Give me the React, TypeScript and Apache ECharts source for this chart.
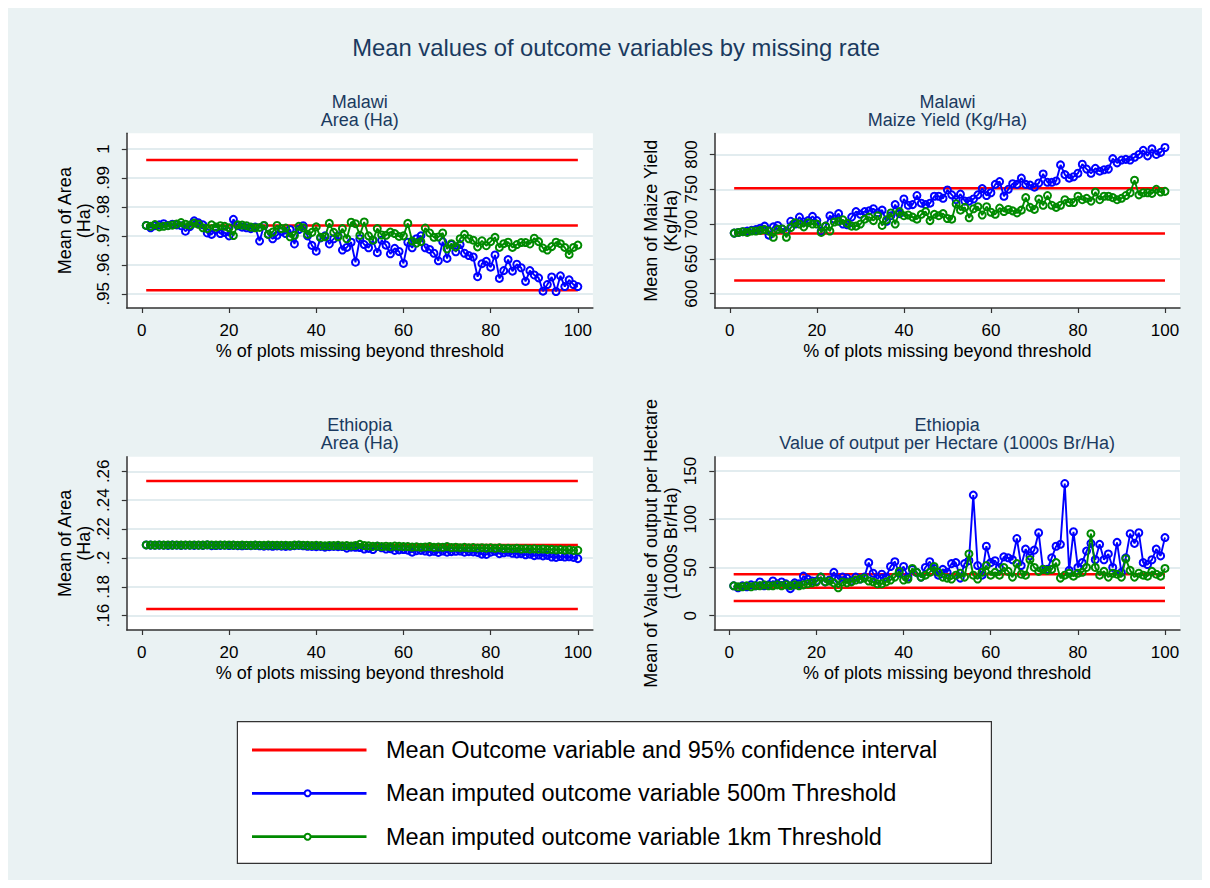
import React, { useEffect, useRef } from 'react';
import * as echarts from 'echarts';

// ---------- data ----------
const missingPct = Array.from({ length: 100 }, (_, i) => i + 1);
const xTicks = [0, 20, 40, 60, 80, 100];

// Malawi – Area (Ha)
const malawiAreaTicks = [0.95, 0.96, 0.97, 0.98, 0.99, 1];
const malawiAreaCI = [0.9962, 0.9736, 0.9512];
const malawiArea500 = [
  0.9736, 0.9728, 0.9735, 0.9738, 0.9742, 0.9736, 0.974, 0.9738, 0.9735, 0.9716,
  0.9732, 0.9752, 0.9745, 0.9738, 0.971, 0.9705, 0.9722, 0.9708, 0.9712, 0.97,
  0.9757, 0.9735, 0.973, 0.9728, 0.9725, 0.973, 0.9682, 0.9735, 0.9705, 0.969,
  0.9702, 0.9715, 0.9708, 0.9722, 0.9672, 0.9722, 0.9735, 0.97, 0.9667, 0.9647,
  0.9693, 0.97, 0.9672, 0.969, 0.97, 0.9651, 0.966, 0.9678, 0.9609, 0.969,
  0.967, 0.9659, 0.9685, 0.9642, 0.9685, 0.9668, 0.9638, 0.9657, 0.9646, 0.9605,
  0.9678, 0.9659, 0.969, 0.97, 0.9659, 0.9653, 0.964, 0.9614, 0.968, 0.9622,
  0.967, 0.9645, 0.967, 0.964, 0.9632, 0.9627, 0.9559, 0.9604, 0.9612, 0.9592,
  0.9634, 0.9553, 0.958, 0.9618, 0.9578, 0.9602, 0.959, 0.9543, 0.958, 0.9565,
  0.9555, 0.9509, 0.9532, 0.9558, 0.9508, 0.9562, 0.9525, 0.9548, 0.9532, 0.9525,
];
const malawiArea1km = [
  0.9736, 0.9733, 0.9739, 0.9731, 0.9733, 0.9735, 0.9737, 0.9741, 0.9746, 0.974,
  0.9737, 0.9744, 0.974, 0.9728, 0.9725, 0.9738, 0.973, 0.9735, 0.9733, 0.9728,
  0.9701, 0.9738, 0.9737, 0.9735, 0.973, 0.9728, 0.9729, 0.9736, 0.9705, 0.9713,
  0.9736, 0.9725, 0.9727, 0.9697, 0.9702, 0.9733, 0.9728, 0.9705, 0.9712, 0.9731,
  0.9695, 0.9697, 0.9743, 0.9712, 0.9697, 0.9725, 0.969, 0.9747, 0.9742, 0.9702,
  0.9748, 0.97, 0.9685, 0.9725, 0.9703, 0.9702, 0.9713, 0.9708, 0.9698, 0.97,
  0.9743, 0.9682, 0.9675, 0.968, 0.9727, 0.971, 0.9695, 0.9696, 0.971, 0.9655,
  0.9673, 0.9662, 0.969, 0.9705, 0.969, 0.9685, 0.9662, 0.9683, 0.9666, 0.968,
  0.9695, 0.966, 0.9673, 0.9678, 0.966, 0.967, 0.9677, 0.9677, 0.9672, 0.9692,
  0.968, 0.9658, 0.9651, 0.9663, 0.9678, 0.9673, 0.966, 0.9636, 0.966, 0.9668,
];

// Malawi – Maize Yield (Kg/Ha)
const maizeTicks = [600, 650, 700, 750, 800];
const maizeCI = [751.5, 686.5, 619];
const maize500 = [
  687, 688, 689, 690, 691, 692, 694, 697, 684, 696,
  698, 693, 690, 704, 700, 710, 703, 705, 711, 705,
  690, 697, 712, 707, 715, 700, 699, 710, 718, 714,
  718, 719, 722, 716, 720, 704, 712, 728, 715, 736,
  727, 728, 741, 730, 728, 730, 740, 740, 737, 749,
  742, 735, 743, 733, 733, 736, 742, 751, 741, 745,
  757, 761, 740, 750, 758, 757, 766, 757, 756, 753,
  759, 772, 760, 760, 762, 785, 771, 766, 768, 773,
  786, 779, 773, 780, 776, 778, 779, 794, 788, 792,
  793, 792, 796, 800, 806, 798, 808, 800, 803, 810,
];
const maize1km = [
  687, 688, 689, 688, 690, 690, 691, 692, 690, 681,
  692, 693, 681, 695, 702, 700, 696, 702, 700, 700,
  688, 697, 690, 703, 704, 706, 701, 697, 697, 700,
  707, 710, 705, 712, 698, 706, 716, 700, 718, 712,
  713, 710, 707, 714, 718, 705, 714, 712, 715, 708,
  707, 729, 720, 724, 709, 722, 725, 713, 725, 717,
  714, 723, 718, 721, 719, 716, 720, 738, 724, 721,
  736, 727, 741, 727, 724, 727, 735, 731, 731, 740,
  735, 737, 733, 746, 735, 740, 740, 738, 735, 737,
  741, 745, 763, 742, 745, 745, 744, 750, 746, 747,
];

// Ethiopia – Area (Ha)
const ethAreaTicks = [0.16, 0.18, 0.2, 0.22, 0.24, 0.26];
const ethAreaCI = [0.2533, 0.2089, 0.1646];
const ethArea500 = [
  0.209, 0.2089, 0.2088, 0.2089, 0.2088, 0.2087, 0.2089, 0.2088, 0.2087, 0.2088,
  0.2088, 0.2087, 0.2088, 0.2087, 0.209, 0.2085, 0.2086, 0.2087, 0.2088, 0.2086,
  0.2087, 0.2085, 0.2084, 0.2086, 0.2085, 0.2087, 0.2084, 0.2082, 0.2083, 0.2081,
  0.2083, 0.2082, 0.208, 0.2082, 0.2085, 0.2087, 0.2084, 0.2081, 0.208, 0.2078,
  0.208, 0.2075, 0.2078, 0.208, 0.2078, 0.2079, 0.2068, 0.2075, 0.2074, 0.2072,
  0.2062, 0.2066, 0.2058, 0.208, 0.207, 0.2062, 0.2064, 0.2052, 0.2056, 0.2058,
  0.2054, 0.204, 0.205, 0.2052, 0.2048, 0.2042, 0.2046, 0.2038, 0.2048, 0.204,
  0.2044, 0.2046, 0.2048, 0.204, 0.2044, 0.2042, 0.2038, 0.2026, 0.2024, 0.204,
  0.2046, 0.203, 0.2036, 0.204, 0.2032, 0.2028, 0.203, 0.2022, 0.2026, 0.2016,
  0.202, 0.2014, 0.2018, 0.2006, 0.2004, 0.201, 0.2006, 0.2008, 0.2004, 0.1995,
];
const ethArea1km = [
  0.209, 0.209, 0.2089, 0.209, 0.2089, 0.209, 0.2089, 0.209, 0.2089, 0.209,
  0.2089, 0.209, 0.2089, 0.2089, 0.2091, 0.209, 0.2089, 0.209, 0.2089, 0.209,
  0.2089, 0.2088, 0.2089, 0.2088, 0.2087, 0.2089, 0.2088, 0.2087, 0.2089, 0.2088,
  0.2088, 0.2087, 0.2088, 0.2086, 0.2089, 0.209, 0.2088, 0.2087, 0.2086, 0.2087,
  0.2085, 0.2084, 0.2086, 0.2085, 0.2087, 0.2084, 0.2085, 0.2083, 0.2086, 0.2094,
  0.2086, 0.2084, 0.208, 0.2082, 0.2079, 0.2081, 0.2078, 0.2082, 0.208, 0.2078,
  0.2079, 0.2075, 0.2077, 0.2074, 0.2076, 0.2078, 0.2073, 0.2075, 0.2074, 0.2078,
  0.2072, 0.2074, 0.2071, 0.2073, 0.207, 0.2072, 0.2069, 0.2071, 0.2068, 0.207,
  0.2067, 0.207, 0.2065, 0.2066, 0.2064, 0.2067, 0.2062, 0.2064, 0.2061, 0.2063,
  0.206, 0.2062, 0.2058, 0.2059, 0.2056, 0.2058, 0.2054, 0.2056, 0.2052, 0.2053,
];

// Ethiopia – Value of output per Hectare (1000s Br/Ha)
const valueTicks = [0, 50, 100, 150];
const valueCI = [42.9, 29.0, 15.2];
const value500 = [
  31, 29, 31, 30, 32, 31, 35, 31, 32, 36,
  33, 35, 33, 28, 34, 33, 41, 38, 36, 36,
  40, 35, 37, 45, 38, 40, 39, 36, 40, 38,
  40, 55, 44, 38, 43, 40, 51, 56, 44, 51,
  40, 48, 45, 40, 50, 56, 49, 42, 48, 45,
  54, 55, 39, 54, 57, 125, 52, 42, 72, 55,
  57, 50, 61, 60, 58, 80, 52, 69, 62, 68,
  86, 48, 48, 60, 72, 74, 137, 47, 87, 50,
  55, 67, 75, 58, 74, 58, 64, 50, 76, 45,
  60, 85, 75, 86, 55, 53, 58, 69, 62, 81,
];
const value1km = [
  31, 30, 30, 31, 30, 31, 31, 32, 31, 31,
  32, 31, 32, 31, 32, 31, 32, 33, 34, 35,
  40, 35, 36, 34, 29, 35, 34, 35, 37, 38,
  39, 36, 35, 33, 33, 35, 37, 40, 46, 37,
  38, 49, 45, 40, 42, 45, 51, 45, 40, 39,
  38, 42, 44, 40, 64, 42, 38, 45, 52, 42,
  45, 42, 50, 46, 40, 54, 43, 42, 58, 50,
  46, 48, 47, 48, 55, 39, 42, 44, 41, 44,
  45, 50, 85, 50, 42, 46, 40, 44, 43, 40,
  59, 47, 40, 44, 42, 41, 46, 43, 41, 49,
];

const legendLabels = [
  'Mean Outcome variable and 95% confidence interval',
  'Mean imputed outcome variable 500m Threshold',
  'Mean imputed outcome variable 1km Threshold',
];

// ---------- styling ----------
const FONT = '"Liberation Sans", Arial, Helvetica, sans-serif';
const BG = '#eaf2f3';
const GRIDLINE = '#e2ecef';
const AXIS = '#333333';
const RED = '#ff0000';
const BLUE = '#0000ff';
const GREEN = '#008a00';
const NAVY = '#1a3a5f';

const fmtDec = (v: number) => {
  const s = String(Math.round(v * 100) / 100);
  return s.replace(/^0\./, '.');
};

type Panel = {
  country: string;
  subtitle: string;
  yName: string;
  yMin: number;
  yMax: number;
  ticks: number[];
  fmt: (v: number) => string;
  ci: number[];
  s500: number[];
  s1km: number[];
  grid: { left: number; top: number; width: number; height: number };
  nameGap: number;
};

const panels: Panel[] = [
  {
    country: 'Malawi', subtitle: 'Area (Ha)', yName: 'Mean of Area\n(Ha)',
    yMin: 0.9451, yMax: 1.0054, ticks: malawiAreaTicks, fmt: fmtDec,
    ci: malawiAreaCI, s500: malawiArea500, s1km: malawiArea1km,
    grid: { left: 118.8, top: 125.3, width: 466.1, height: 174.7 }, nameGap: 33,
  },
  {
    country: 'Malawi', subtitle: 'Maize Yield (Kg/Ha)', yName: 'Mean of Maize Yield\n(Kg/Ha)',
    yMin: 579.4, yMax: 830, ticks: maizeTicks, fmt: (v) => String(v),
    ci: maizeCI, s500: maize500, s1km: maize1km,
    grid: { left: 706.8, top: 125.6, width: 465.2, height: 174.4 }, nameGap: 34.5,
  },
  {
    country: 'Ethiopia', subtitle: 'Area (Ha)', yName: 'Mean of Area\n(Ha)',
    yMin: 0.1501, yMax: 0.2701, ticks: ethAreaTicks, fmt: fmtDec,
    ci: ethAreaCI, s500: ethArea500, s1km: ethArea1km,
    grid: { left: 118.8, top: 448.7, width: 466.1, height: 173.3 }, nameGap: 33,
  },
  {
    country: 'Ethiopia', subtitle: 'Value of output per Hectare (1000s Br/Ha)',
    yName: 'Mean of Value of output per Hectare\n(1000s Br/Ha)',
    yMin: -14.8, yMax: 164.8, ticks: valueTicks, fmt: (v) => String(v),
    ci: valueCI, s500: value500, s1km: value1km,
    grid: { left: 706.3, top: 448.7, width: 465.7, height: 173.3 }, nameGap: 34,
  },
];

function buildOption() {
  const grid: any[] = [];
  const xAxis: any[] = [];
  const yAxis: any[] = [];
  const series: any[] = [];
  const graphic: any[] = [];

  panels.forEach((p, i) => {
    grid.push({
      ...p.grid,
      show: true,
      backgroundColor: '#ffffff',
      borderWidth: 0,
      containLabel: false,
    });
    xAxis.push({
      type: 'value',
      gridIndex: i,
      min: -3.45,
      max: 103.45,
      axisLine: { show: true, onZero: false, lineStyle: { color: AXIS, width: 1.5 } },
      axisTick: { show: true, customValues: xTicks, length: 5, lineStyle: { color: AXIS, width: 1.2 } },
      axisLabel: {
        customValues: xTicks, margin: 14, fontSize: 17, color: '#000', fontFamily: FONT,
      },
      splitLine: { show: false },
      name: '% of plots missing beyond threshold',
      nameLocation: 'middle',
      nameGap: 34,
      nameTextStyle: { fontSize: 18, color: '#000', fontFamily: FONT },
    });
    yAxis.push({
      type: 'value',
      gridIndex: i,
      min: p.yMin,
      max: p.yMax,
      axisLine: { show: true, onZero: false, lineStyle: { color: AXIS, width: 1.5 } },
      axisTick: { show: true, customValues: p.ticks, length: 5, lineStyle: { color: AXIS, width: 1.2 } },
      axisLabel: {
        customValues: p.ticks, rotate: 90, margin: 15, fontSize: 17, color: '#000',
        fontFamily: FONT, formatter: (v: number) => p.fmt(v),
      },
      splitLine: { show: true, lineStyle: { color: GRIDLINE, width: 2 } },
      name: p.yName,
      nameLocation: 'middle',
      nameRotate: 90,
      nameGap: p.nameGap,
      nameTextStyle: { fontSize: 18, lineHeight: 19.5, color: '#000', fontFamily: FONT, align: 'center' },
    });
    p.ci.forEach((v) => {
      series.push({
        type: 'line', xAxisIndex: i, yAxisIndex: i, silent: true,
        data: [[missingPct[0], v], [missingPct[missingPct.length - 1], v]],
        symbol: 'none', lineStyle: { color: RED, width: 2.5 }, z: 2,
      });
    });
    const imp = (vals: number[], color: string, z: number) => ({
      type: 'line', xAxisIndex: i, yAxisIndex: i, silent: true,
      data: vals.map((v, k) => [missingPct[k], v]),
      symbol: 'circle', symbolSize: 7, showSymbol: true,
      lineStyle: { color, width: 1.9 },
      itemStyle: { color: 'rgba(0,0,0,0)', borderColor: color, borderWidth: 2 },
      z,
    });
    series.push(imp(p.s500, BLUE, 3));
    series.push(imp(p.s1km, GREEN, 4));

    const cx = p.grid.left + p.grid.width / 2;
    const top = i < 2 ? 94.3 : 417;
    graphic.push({
      type: 'text', x: cx, y: top,
      style: { text: p.country, fill: NAVY, font: `18px ${FONT}`, textAlign: 'center', textVerticalAlign: 'middle' },
    });
    graphic.push({
      type: 'text', x: cx, y: top + 17.7,
      style: { text: p.subtitle, fill: NAVY, font: `18px ${FONT}`, textAlign: 'center', textVerticalAlign: 'middle' },
    });
  });

  // main title
  graphic.push({
    type: 'text', x: 608, y: 39,
    style: {
      text: 'Mean values of outcome variables by missing rate', fill: NAVY,
      font: `23.8px ${FONT}`, textAlign: 'center', textVerticalAlign: 'middle',
    },
  });

  // legend box
  const lx = 229.4, ly = 713.7, lw = 754, lh = 141.6;
  graphic.push({
    type: 'rect', shape: { x: lx, y: ly, width: lw, height: lh },
    style: { fill: '#ffffff', stroke: '#333333', lineWidth: 1.2 },
  });
  const rowY = [742, 785.3, 828.7];
  const colors = [RED, BLUE, GREEN];
  rowY.forEach((y, k) => {
    graphic.push({
      type: 'line', shape: { x1: 244, y1: y, x2: 358.5, y2: y },
      style: { stroke: colors[k], lineWidth: 2.8 },
    });
    if (k > 0) {
      graphic.push({
        type: 'circle', shape: { cx: 299.6, cy: y, r: 3 },
        style: { fill: '#ffffff', stroke: colors[k], lineWidth: 2 },
      });
    }
    graphic.push({
      type: 'text', x: 378, y,
      style: {
        text: legendLabels[k], fill: '#000', font: `23.5px ${FONT}`,
        textAlign: 'left', textVerticalAlign: 'middle',
      },
    });
  });

  return {
    animation: false,
    backgroundColor: BG,
    textStyle: { fontFamily: FONT },
    grid, xAxis, yAxis, series, graphic,
  };
}

export default function App() {
  const ref = useRef<HTMLDivElement>(null);
  useEffect(() => {
    if (!ref.current) return;
    const chart = echarts.init(ref.current, undefined, { renderer: 'svg' });
    chart.setOption(buildOption() as any);
    return () => chart.dispose();
  }, []);
  return <div ref={ref} style={{ width: 1194, height: 872 }} />;
}
